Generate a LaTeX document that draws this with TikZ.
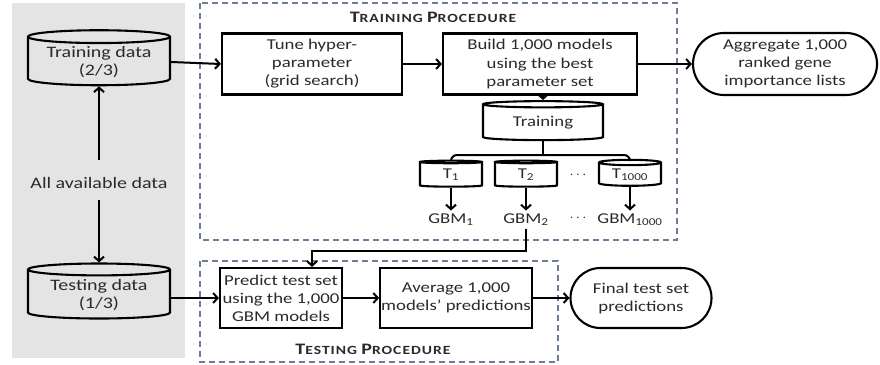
\documentclass[tikz,border=0pt]{standalone}
\usepackage{fontspec}
\setmainfont{Carlito}[FakeStretch=1.25]
\usetikzlibrary{shapes.geometric,shapes.misc,arrows.meta}
\definecolor{bggray}{HTML}{E4E4E4}
\definecolor{dashblue}{HTML}{6E7C98}
\definecolor{inkgray}{HTML}{2A2A2A}
\newcommand{\ProcLabel}[2]{{\fontsize{16}{18}\selectfont\bfseries\addfontfeature{LetterSpace=8}#1{\fontsize{12.5}{14}\selectfont #2}}}

\begin{document}
\begin{tikzpicture}[x=1pt,y=-1pt,
		stepbox/.style={draw,line width=2.1pt,align=center,inner sep=1pt,text=inkgray},
		databin/.style={cylinder,shape border rotate=90,draw,line width=2.1pt,aspect=0.12,
			align=center,inner sep=1pt,text=inkgray},
		terminal/.style={rounded rectangle,draw,line width=2.1pt,align=center,inner sep=1pt,text=inkgray},
		procframe/.style={draw=dashblue,line width=1.4pt,dash pattern=on 6pt off 4pt},
		arr/.style={line width=2pt,-{Straight Barb[length=4.5pt,width=10pt,line width=2pt]}},
		every node/.style={font=\fontsize{15}{18}\selectfont}]
		\useasboundingbox (0,0) rectangle (880,364);
		\fill[bggray] (12,3) rectangle (185,358);% data panel

		% dashed procedure frames
		\draw[procframe] (200,3) rectangle (677,240);
		\draw[procframe] (200,261) rectangle (558,362);
		\node[text=inkgray] (trainlbl) at (433,17) {\ProcLabel{T}{RAINING} \ProcLabel{P}{ROCEDURE}};
		\node[text=inkgray] (testlbl) at (373,349) {\ProcLabel{T}{ESTING} \ProcLabel{P}{ROCEDURE}};

		% data
		\node[databin,minimum width=142pt,minimum height=55pt,font=\fontsize{16}{18}\selectfont] (traindata) at (99,62) {Training data\\(2/3)};
		\node[databin,minimum width=142pt,minimum height=55pt,font=\fontsize{16}{18}\selectfont] (testdata) at (99,295) {Testing data\\(1/3)};
		\node[text=inkgray,font=\fontsize{16}{18}\selectfont] (alldata) at (99,183) {All available data};

		% training procedure
		\node[stepbox,minimum width=180pt,minimum height=61pt] (tune) at (312,64) {Tune hyper-\\parameter\\(grid search)};
		\node[stepbox,minimum width=194pt,minimum height=61pt] (build) at (540,64) {Build 1,000 models\\using the best\\parameter set};
		\node[terminal,minimum width=186pt,minimum height=62pt] (aggr) at (785,64) {Aggregate 1,000\\ranked gene\\importance lists};
		\node[databin,aspect=0.1,minimum width=120pt,minimum height=39pt] (trn) at (543,123) {Training};
		\node[databin,aspect=0.14,minimum width=62pt,minimum height=26pt] (t1) at (451,175) {T\textsubscript{1}};
		\node[databin,aspect=0.14,minimum width=62pt,minimum height=26pt] (t2) at (526,175) {T\textsubscript{2}};
		\node[databin,aspect=0.14,minimum width=62pt,minimum height=26pt] (t1000) at (630,175) {T\textsubscript{1000}};
		\node[text=inkgray] (tdots) at (578,175) {$\cdots$};
		\node[text=inkgray] (gbm1) at (451,220) {GBM\textsubscript{1}};
		\node[text=inkgray] (gbm2) at (526,220) {GBM\textsubscript{2}};
		\node[text=inkgray] (gbm1000) at (630,220) {GBM\textsubscript{1000}};
		\node[text=inkgray] (gdots) at (578,218) {$\cdots$};
		\coordinate (fork) at (543,155);
		\coordinate (bend) at (312,251);

		% testing procedure
		\node[stepbox,minimum width=122pt,minimum height=60pt] (predict) at (281,298) {Predict test set\\using the 1,000\\GBM models};
		\node[stepbox,minimum width=148pt,minimum height=60pt] (average) at (456,298) {Average 1,000\\models' predictions};
		\node[terminal,minimum width=143pt,minimum height=60pt] (final) at (641,298) {Final test set\\predictions};

		% connectors
		\draw[arr,shorten <=14pt] (alldata.north) -- (traindata.south);
		\draw[arr,shorten <=8pt] (alldata.south) -- (testdata.north);
		\draw[arr] (traindata.east) -- (tune.west);
		\draw[arr] (testdata.east |- predict.west) -- (predict.west);
		\draw[arr] (tune) -- (build);
		\draw[arr] (build) -- (aggr);
		\draw[arr] (build.south -| trn.north) -- (trn.north);
		\draw[line width=2pt] (trn.south) -- (fork);
		\draw[line width=2pt,rounded corners=6pt] (t1.north) |- (fork) -| (t1000.north);
		\draw[arr] (t1.south) -- (gbm1.north);
		\draw[arr] (t2.south) -- (gbm2.north);
		\draw[arr] (t1000.south) -- (gbm1000.north);
		\draw[arr] (gbm2.south) |- (bend) -- (bend |- predict.north);
		\draw[arr] (predict) -- (average);
		\draw[arr] (average) -- (final);
	\end{tikzpicture}
\end{document}
